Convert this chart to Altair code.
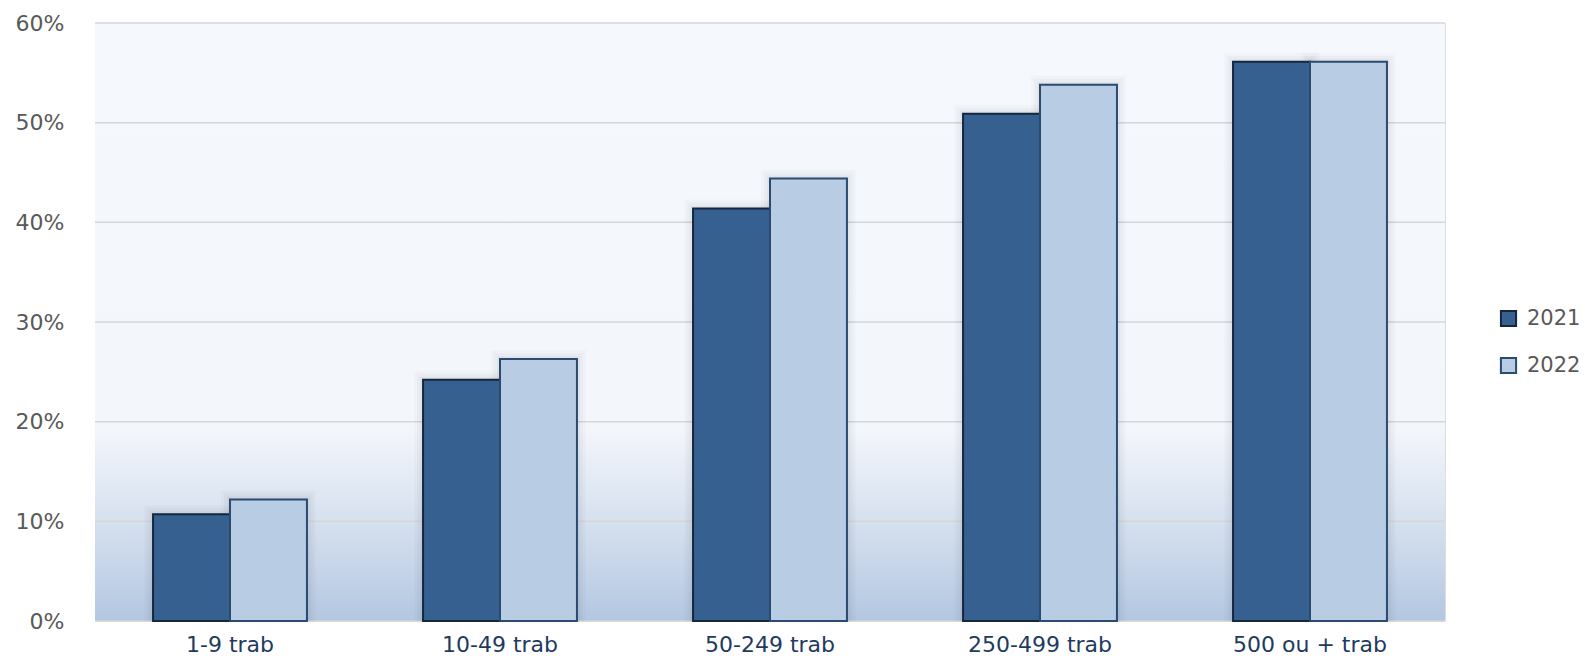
import altair as alt
import pandas as pd

categories = ["1-9 trab", "10-49 trab", "50-249 trab", "250-499 trab", "500 ou + trab"]
values_2021 = [10.7, 24.2, 41.4, 50.9, 56.1]
values_2022 = [12.2, 26.3, 44.4, 53.8, 56.1]
years = ["2021", "2022"]
y_ticks = [0, 10, 20, 30, 40, 50, 60]

rows = []
for c, a, b in zip(categories, values_2021, values_2022):
    rows.append({"cat": c, "year": "2021", "v": a / 100})
    rows.append({"cat": c, "year": "2022", "v": b / 100})
df = pd.DataFrame(rows)
grid_df = pd.DataFrame({"t": [t / 100 for t in y_ticks]})
bg_df = pd.DataFrame({"a": [0]})

W, H = 1350, 598

yscale = alt.Scale(domain=[0, 0.6], nice=False)
xscale = alt.Scale(domain=categories, paddingInner=0.43, paddingOuter=0.215)

bg = alt.Chart(bg_df).mark_rect(
    fill=alt.Gradient(
        gradient="linear",
        stops=[
            alt.GradientStop(color="#f5f8fc", offset=0),
            alt.GradientStop(color="#f3f6fb", offset=0.68),
            alt.GradientStop(color="#d5e0ee", offset=0.84),
            alt.GradientStop(color="#b3c7e2", offset=1),
        ],
        x1=0, x2=0, y1=0, y2=1,
    )
).encode(x=alt.value(0), x2=alt.value(W), y=alt.value(0), y2=alt.value(H))

grid = alt.Chart(grid_df).mark_rule(color="#d6d6d6", strokeWidth=1.5).encode(
    y=alt.Y("t:Q", scale=yscale),
    x=alt.value(0), x2=alt.value(W),
)

xenc = alt.X("cat:N", sort=categories, scale=xscale,
             axis=alt.Axis(title=None, labelAngle=0, ticks=False, domain=False,
                           labelFontSize=22, labelColor="#1f3a5f", labelPadding=30,
                           labelBaseline="alphabetic",
                           labelFont="DejaVu Sans", labelFontWeight="normal"))
yenc = alt.Y("v:Q", scale=yscale,
             axis=alt.Axis(title=None, values=[t / 100 for t in y_ticks], format=".0%",
                           grid=False, ticks=False, domain=False, labelFontSize=22,
                           labelColor="#595959", labelPadding=31, labelFont="DejaVu Sans"))
xoff = alt.XOffset("year:N", scale=alt.Scale(paddingInner=0, paddingOuter=0))

shadows = []
for sw, op in [(18, 0.02), (12, 0.025), (6, 0.03)]:
    shadows.append(
        alt.Chart(df).mark_bar(fill="#000000", fillOpacity=0, stroke="#000000",
                               strokeOpacity=op, strokeWidth=sw, clip=True).encode(
            x=xenc, xOffset=xoff, y=yenc)
    )

bars = alt.Chart(df).mark_bar(strokeWidth=2).encode(
    x=xenc,
    xOffset=xoff,
    y=yenc,
    fill=alt.Fill("year:N", scale=alt.Scale(domain=years, range=["#36608f", "#b8cce4"]),
                  legend=alt.Legend(title=None, orient="none", legendX=1403, legendY=285,
                                    symbolType="square", symbolSize=230, symbolStrokeWidth=2,
                                    labelFontSize=21, labelColor="#595959",
                                    labelFont="DejaVu Sans", rowPadding=22, labelOffset=8)),
    stroke=alt.Stroke("year:N", scale=alt.Scale(domain=years, range=["#15263f", "#2b4a70"]),
                      legend=None),
)

chart = alt.layer(bg, grid, *shadows, bars).properties(
    width=W, height=H,
    autosize=alt.AutoSizeParams(type="none"),
    padding={"left": 87, "top": 15, "right": 138, "bottom": 37},
).configure_view(stroke=None).configure(background="white")

chart.save("out.html", embed_options={"renderer": "svg", "actions": False})
